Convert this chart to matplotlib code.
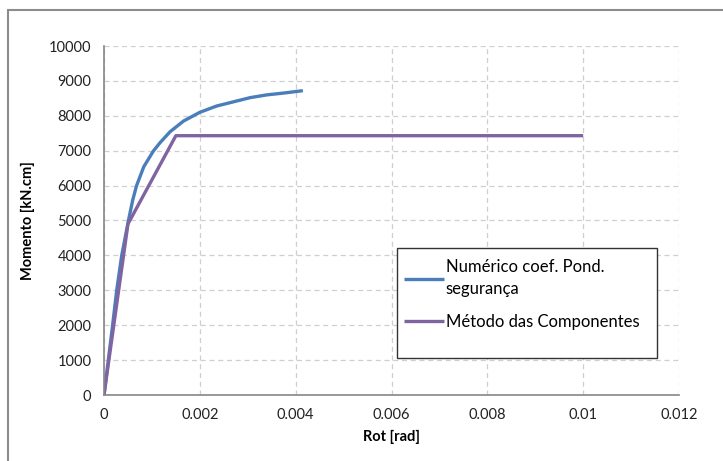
import matplotlib
matplotlib.use('Agg')
import matplotlib.pyplot as plt
from matplotlib.patches import Rectangle

plt.rcParams['font.family'] = ['Lato', 'DejaVu Sans']

#%% Data.
rot_num = [0, 0.00009, 0.00018, 0.000265, 0.00037, 0.00051, 0.0006, 0.00068,
           0.00083, 0.00103, 0.00117, 0.00138, 0.00166, 0.002, 0.00235,
           0.0027, 0.00305, 0.0034, 0.00374, 0.00415]
mom_num = [0, 1000, 2000, 3000, 4000, 5000, 5590, 6000,
           6540, 6990, 7230, 7545, 7850, 8100, 8280,
           8400, 8520, 8600, 8650, 8720]

rot_comp = [0, 0.0005, 0.0015, 0.01]
mom_comp = [0, 4900, 7430, 7430]

labels = ['Numérico coef. Pond.\nsegurança', 'Método das Componentes']
xticks = [0, 0.002, 0.004, 0.006, 0.008, 0.01, 0.012]
xtick_labels = ['0', '0.002', '0.004', '0.006', '0.008', '0.01', '0.012']
yticks = list(range(0, 10001, 1000))


#%% Plot.
fig = plt.figure(figsize=(7.23, 4.61), dpi=100)
fig.patches.append(Rectangle((8 / 723, -0.1), 1.2, (461 - 10) / 461 + 0.1,
                             transform=fig.transFigure, fill=False,
                             edgecolor='#8c8c8c', linewidth=1.5))

ax = fig.add_axes([104 / 723, 66 / 461, 575 / 723, 349 / 461])
ax.plot(rot_num, mom_num, c='#4a7ebb', lw=2.4, label=labels[0],
        solid_capstyle='butt', solid_joinstyle='round')
ax.plot(rot_comp, mom_comp, c='#8064a2', lw=2.4, label=labels[1],
        solid_capstyle='butt')

ax.set_xlim(0, 0.012)
ax.set_ylim(0, 10000)
ax.set_xticks(xticks)
ax.set_xticklabels(xtick_labels)
ax.set_yticks(yticks)
ax.tick_params(length=0, labelsize=10.5, colors='#222222', pad=9)
ax.grid(linestyle=(0, (4, 3)), color='#cfcfcf', lw=0.9)
ax.set_axisbelow(True)
for s in ['top', 'right']:
    ax.spines[s].set_visible(False)
for s in ['left', 'bottom']:
    ax.spines[s].set_color('#868686')
    ax.spines[s].set_linewidth(1.2)

ax.set_xlabel('Rot [rad]', fontsize=10.5, fontweight='bold', labelpad=6)
ax.set_ylabel('Momento [kN.cm]', fontsize=10.5, fontweight='bold', labelpad=10)

# legend frame drawn separately, it is taller than the entries
ax.add_patch(Rectangle((293 / 575, 37 / 349), 260 / 575, 110 / 349,
                       transform=ax.transAxes, fill=True, facecolor='white',
                       edgecolor='#333333', lw=1.0, zorder=5))
leg = ax.legend(loc='upper left', bbox_to_anchor=(300 / 575, 136 / 349),
                fontsize=12, frameon=False, handlelength=2.4,
                handletextpad=0.1, borderpad=0, labelspacing=1.0,
                borderaxespad=0)
leg.set_zorder(6)
leg.get_texts()[0].set_linespacing(1.45)

plt.savefig('out.png', dpi=100)
